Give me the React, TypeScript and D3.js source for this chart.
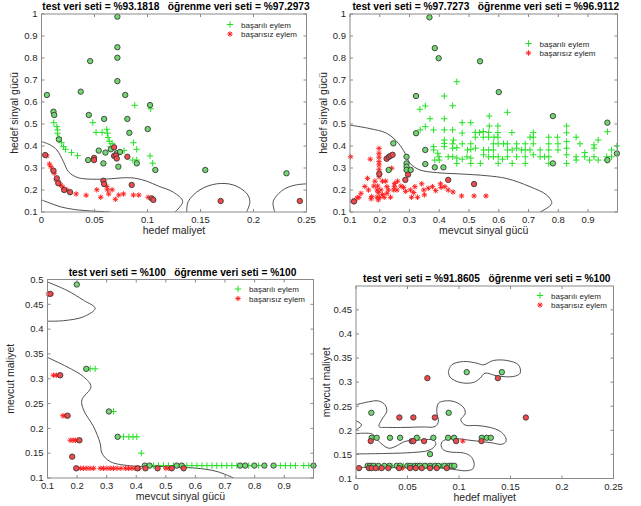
import React from "react";
import * as d3 from "d3";

type Pt = [number, number];

// ---------- panel 1: hedef maliyet / hedef sinyal gücü ----------
const p1TrainOk: Pt[] = [
  [0.0116, 0.506], [0.0145, 0.488], [0.0151, 0.473], [0.0151, 0.458], [0.0164, 0.439], [0.0189, 0.415],
  [0.0208, 0.397], [0.0227, 0.385], [0.0283, 0.37], [0.034, 0.356], [0.0484, 0.506], [0.0515, 0.462],
  [0.0572, 0.462], [0.0616, 0.476], [0.0622, 0.458], [0.0628, 0.439], [0.064, 0.421], [0.0653, 0.397],
  [0.0666, 0.412], [0.088, 0.585], [0.103, 0.569], [0.0867, 0.415], [0.0898, 0.385], [0.1024, 0.355],
  [0.1049, 0.322], [0.0861, 0.336], [0.0898, 0.336], [0.0779, 0.379],
];
const p1TrainFail: Pt[] = [
  [0.005, 0.355], [0.0075, 0.318], [0.0088, 0.306], [0.0107, 0.291], [0.012, 0.276], [0.0138, 0.246],
  [0.0164, 0.234], [0.0182, 0.222], [0.0201, 0.213], [0.0239, 0.201], [0.0327, 0.182], [0.0421, 0.176],
  [0.0522, 0.201], [0.0559, 0.167], [0.0616, 0.216], [0.0622, 0.201], [0.0634, 0.182], [0.0666, 0.201],
  [0.0697, 0.158], [0.0729, 0.177], [0.0773, 0.182], [0.0867, 0.177], [0.0918, 0.177], [0.1006, 0.167],
];
const p1TestOk: Pt[] = [
  [0.0716, 0.988], [0.0716, 0.849], [0.0716, 0.801], [0.0716, 0.695], [0.0459, 0.786], [0.037, 0.647],
  [0.0051, 0.632], [0.079, 0.632], [0.0113, 0.556], [0.012, 0.541], [0.0446, 0.541], [0.0591, 0.523],
  [0.081, 0.523], [0.1024, 0.586], [0.1002, 0.477], [0.0829, 0.46], [0.0164, 0.43], [0.054, 0.379],
  [0.0603, 0.37], [0.0654, 0.385], [0.071, 0.367], [0.0741, 0.373], [0.044, 0.336], [0.0584, 0.321],
  [0.0725, 0.306], [0.0899, 0.321], [0.1074, 0.291], [0.1545, 0.291], [0.2311, 0.276],
];
const p1TestFail: Pt[] = [
  [0.0035, 0.359], [0.0113, 0.288], [0.0145, 0.253], [0.0158, 0.231], [0.0214, 0.2], [0.027, 0.19],
  [0.0496, 0.346], [0.0496, 0.336], [0.0584, 0.242], [0.0591, 0.227], [0.0685, 0.394], [0.0685, 0.355],
  [0.0703, 0.357], [0.071, 0.343], [0.081, 0.351], [0.0851, 0.223], [0.104, 0.162], [0.1055, 0.155],
  [0.169, 0.15], [0.2437, 0.15],
];
const p1Bounds: Pt[][] = [
  [[0, 0.42], [0.0082, 0.405], [0.0145, 0.382], [0.0207, 0.329], [0.0254, 0.283], [0.0333, 0.258],
   [0.0428, 0.25], [0.0616, 0.25], [0.0804, 0.256], [0.0899, 0.252], [0.0993, 0.24], [0.1102, 0.218],
   [0.1244, 0.19], [0.1332, 0.148], [0.1259, 0.1]],
  [[0, 0.155], [0.0082, 0.14], [0.0176, 0.124], [0.0302, 0.112], [0.0428, 0.106], [0.0647, 0.1]],
  [[0.137, 0.1], [0.1385, 0.148], [0.1495, 0.201], [0.1652, 0.228], [0.1809, 0.223], [0.1935, 0.185],
   [0.1966, 0.148], [0.1935, 0.1]],
  [[0.2201, 0.1], [0.2186, 0.148], [0.228, 0.201], [0.239, 0.222], [0.25, 0.228]],
];

// ---------- panel 2: mevcut sinyal gücü / hedef sinyal gücü ----------
const p2TrainOk: Pt[] = [
  [0.459, 0.692], [0.445, 0.583], [0.568, 0.536], [0.629, 0.553], [0.477, 0.506], [0.506, 0.506],
  [0.445, 0.473], [0.568, 0.491], [0.597, 0.491], [0.828, 0.491],
  [0.477, 0.459], [0.521, 0.462], [0.535, 0.461], [0.548, 0.466], [0.566, 0.461], [0.597, 0.461],
  [0.644, 0.461], [0.716, 0.461], [0.828, 0.46], [0.965, 0.465],
  [0.521, 0.44], [0.548, 0.44], [0.566, 0.44], [0.584, 0.44], [0.597, 0.44], [0.705, 0.44],
  [0.716, 0.44], [0.768, 0.44], [0.797, 0.44], [0.86, 0.44], [0.934, 0.427],
  [0.445, 0.41], [0.477, 0.41], [0.506, 0.41], [0.582, 0.41], [0.598, 0.41], [0.616, 0.41],
  [0.629, 0.41], [0.66, 0.41], [0.689, 0.41], [0.716, 0.41], [0.768, 0.41], [0.799, 0.41],
  [0.828, 0.42], [0.873, 0.41], [0.92, 0.405], [0.997, 0.4],
  [0.445, 0.39], [0.495, 0.382], [0.506, 0.385], [0.522, 0.39], [0.549, 0.382], [0.566, 0.382],
  [0.582, 0.382], [0.629, 0.382], [0.645, 0.382], [0.66, 0.39], [0.676, 0.382], [0.689, 0.382],
  [0.705, 0.382], [0.739, 0.382], [0.768, 0.382], [0.799, 0.382], [0.828, 0.39], [0.889, 0.37],
  [0.92, 0.39], [0.979, 0.382],
  [0.445, 0.351], [0.459, 0.345], [0.477, 0.34], [0.493, 0.351], [0.506, 0.345], [0.549, 0.36],
  [0.566, 0.351], [0.582, 0.351], [0.598, 0.351], [0.613, 0.34], [0.629, 0.351], [0.66, 0.351],
  [0.689, 0.351], [0.716, 0.36], [0.739, 0.351], [0.754, 0.351], [0.768, 0.351], [0.828, 0.36],
  [0.86, 0.351], [0.889, 0.351], [0.92, 0.351], [0.963, 0.351], [0.979, 0.351],
  [0.459, 0.321], [0.506, 0.321], [0.538, 0.321], [0.598, 0.321], [0.645, 0.321], [0.689, 0.321],
  [0.768, 0.321], [0.828, 0.321], [0.86, 0.336], [0.905, 0.336], [0.934, 0.336], [0.963, 0.336],
  [0.335, 0.567], [0.353, 0.582], [0.369, 0.524], [0.353, 0.488], [0.336, 0.473], [0.381, 0.473],
  [0.417, 0.627], [0.417, 0.524], [0.417, 0.473], [0.417, 0.427], [0.417, 0.412], [0.417, 0.397],
  [0.395, 0.367], [0.381, 0.397], [0.399, 0.351], [0.448, 0.427], [0.43, 0.351], [0.459, 0.392],
  [0.381, 0.382], [0.4, 0.336], [0.385, 0.336],
];
const p2TrainFail: Pt[] = [
  [0.102, 0.351], [0.1975, 0.389], [0.1975, 0.367], [0.1975, 0.349], [0.1975, 0.329], [0.1975, 0.314],
  [0.1975, 0.294], [0.1975, 0.276], [0.1975, 0.26], [0.168, 0.34], [0.24, 0.299], [0.159, 0.253],
  [0.184, 0.24], [0.209, 0.24], [0.18, 0.218], [0.193, 0.218], [0.15, 0.216], [0.137, 0.185],
  [0.13, 0.167], [0.124, 0.164], [0.115, 0.151], [0.108, 0.149], [0.162, 0.2], [0.173, 0.17],
  [0.171, 0.16], [0.191, 0.2], [0.195, 0.188], [0.204, 0.2], [0.191, 0.167], [0.2, 0.167],
  [0.209, 0.179], [0.195, 0.155], [0.22, 0.24], [0.224, 0.215], [0.229, 0.2], [0.224, 0.185],
  [0.236, 0.167], [0.215, 0.167], [0.249, 0.215], [0.247, 0.2], [0.258, 0.2], [0.271, 0.218],
  [0.28, 0.212], [0.287, 0.194], [0.303, 0.2], [0.318, 0.215], [0.314, 0.188], [0.307, 0.167],
  [0.327, 0.167], [0.341, 0.228], [0.348, 0.2], [0.363, 0.208], [0.35, 0.178], [0.377, 0.215],
  [0.388, 0.197], [0.406, 0.212], [0.404, 0.228], [0.419, 0.215], [0.43, 0.2], [0.446, 0.191],
  [0.475, 0.173], [0.517, 0.173], [0.557, 0.173], [0.25, 0.23], [0.26, 0.24],
];
const p2TestOk: Pt[] = [
  [0.367, 0.985], [0.385, 0.845], [0.398, 0.799], [0.537, 0.785], [0.6, 0.645], [0.782, 0.536],
  [0.965, 0.506], [0.322, 0.627], [0.322, 0.458], [0.2457, 0.412], [0.353, 0.382], [0.353, 0.318],
  [0.385, 0.303], [0.414, 0.303], [0.29, 0.351], [0.29, 0.321], [0.29, 0.306], [0.29, 0.291],
  [0.23, 0.291], [0.304, 0.291], [0.782, 0.321], [0.965, 0.336], [0.997, 0.366],
];
const p2TestFail: Pt[] = [
  [0.1135, 0.148], [0.1987, 0.273], [0.223, 0.342], [0.23, 0.35], [0.236, 0.355], [0.243, 0.36],
  [0.295, 0.27], [0.286, 0.246], [0.43, 0.246], [0.517, 0.227],
];
const p2Bounds: Pt[][] = [
  [[0.1, 0.495], [0.167, 0.479], [0.223, 0.458], [0.263, 0.412], [0.285, 0.367], [0.302, 0.321],
   [0.335, 0.291], [0.391, 0.279], [0.47, 0.273], [0.559, 0.265], [0.627, 0.252], [0.705, 0.215],
   [0.761, 0.177], [0.778, 0.139], [0.739, 0.1]],
];

// ---------- panel 3: mevcut sinyal gücü / mevcut maliyet ----------
const p3TrainOk: Pt[] = [
  [0.244, 0.32], [0.261, 0.32], [0.323, 0.234], [0.357, 0.183], [0.375, 0.183], [0.389, 0.183],
  [0.402, 0.183], [0.417, 0.15],
  [0.458, 0.125], [0.475, 0.125], [0.492, 0.125], [0.509, 0.125], [0.526, 0.125], [0.571, 0.125],
  [0.588, 0.125], [0.605, 0.125], [0.622, 0.125], [0.639, 0.125], [0.656, 0.125], [0.672, 0.125],
  [0.689, 0.125], [0.706, 0.125], [0.723, 0.125], [0.74, 0.125], [0.78, 0.125], [0.813, 0.125],
  [0.887, 0.125], [0.904, 0.125], [0.921, 0.125], [0.938, 0.125], [0.966, 0.125], [0.983, 0.125],
];
const p3TrainFail: Pt[] = [
  [0.103, 0.471], [0.113, 0.471], [0.12, 0.307], [0.13, 0.307], [0.137, 0.307], [0.152, 0.2255],
  [0.16, 0.2255], [0.177, 0.176], [0.186, 0.176], [0.194, 0.176], [0.201, 0.176],
  [0.211, 0.1195], [0.222, 0.1195], [0.233, 0.1195], [0.244, 0.1195], [0.256, 0.1195], [0.278, 0.1195],
  [0.289, 0.1195], [0.301, 0.1195], [0.312, 0.1195], [0.323, 0.1195], [0.335, 0.1195], [0.348, 0.1195],
  [0.363, 0.1195], [0.374, 0.1195], [0.385, 0.1195], [0.396, 0.1195], [0.41, 0.1195], [0.5, 0.1195],
  [0.51, 0.1195],
];
const p3TestOk: Pt[] = [
  [0.199, 0.49], [0.231, 0.32], [0.3075, 0.234], [0.337, 0.183], [0.429, 0.125], [0.445, 0.125],
  [0.537, 0.125], [0.554, 0.125], [0.751, 0.125], [0.768, 0.125], [0.799, 0.125], [0.833, 0.125],
  [0.864, 0.125], [0.999, 0.125],
];
const p3TestFail: Pt[] = [
  [0.109, 0.471], [0.143, 0.307], [0.168, 0.2255], [0.208, 0.176], [0.1835, 0.143], [0.197, 0.1195],
  [0.404, 0.1195], [0.431, 0.1195], [0.472, 0.1195], [0.52, 0.1195], [0.56, 0.1195],
];
const p3Bounds: Pt[][] = [
  [[0.1, 0.495], [0.166, 0.478], [0.222, 0.458], [0.261, 0.442], [0.222, 0.425], [0.154, 0.417], [0.1, 0.416]],
  [[0.1, 0.343], [0.166, 0.324], [0.222, 0.304], [0.247, 0.284], [0.216, 0.257], [0.222, 0.237],
   [0.256, 0.203], [0.278, 0.17], [0.284, 0.15], [0.312, 0.133], [0.391, 0.124], [0.504, 0.123],
   [0.616, 0.119], [0.673, 0.113], [0.729, 0.1]],
];

// ---------- panel 4: hedef maliyet / mevcut maliyet ----------
const p4TrainOk: Pt[] = [
  [0.015, 0.1263], [0.019, 0.1263], [0.035, 0.1263], [0.046, 0.1263], [0.055, 0.1263], [0.065, 0.1263],
  [0.069, 0.1263], [0.074, 0.1263], [0.083, 0.1263], [0.088, 0.1263], [0.092, 0.1263], [0.0601, 0.1845],
];
const p4TrainFail: Pt[] = [[0.1037, 0.1776], [0.022, 0.1216], [0.045, 0.1216]];
const p4TestOk: Pt[] = [
  [0.1075, 0.3207], [0.1416, 0.3207], [0.0149, 0.2363], [0.09, 0.2363],
  [0.0152, 0.1845], [0.0201, 0.1845], [0.033, 0.1845], [0.0428, 0.1845], [0.059, 0.1845], [0.0751, 0.1845],
  [0.0894, 0.1845], [0.0952, 0.1845], [0.1221, 0.1845], [0.127, 0.1845], [0.1309, 0.1845], [0.0719, 0.1506],
  [0.0113, 0.1263], [0.0136, 0.1263], [0.0168, 0.1263], [0.0217, 0.1263], [0.0275, 0.1263], [0.0324, 0.1263],
  [0.0395, 0.1263], [0.0428, 0.1263], [0.0499, 0.1263], [0.0525, 0.1263], [0.0573, 0.1263], [0.0599, 0.1263],
  [0.0622, 0.1263], [0.067, 0.1263], [0.0719, 0.1263], [0.0768, 0.1263], [0.08, 0.1263], [0.0858, 0.1263],
  [0.0904, 0.1263], [0.093, 0.1263], [0.0955, 0.1263],
];
const p4TestFail: Pt[] = [
  [0.0693, 0.3083], [0.1377, 0.3083], [0.0421, 0.2266], [0.0557, 0.2266], [0.0765, 0.2266], [0.1649, 0.2266],
  [0.0143, 0.1776], [0.0541, 0.1776], [0.0557, 0.1776], [0.0661, 0.1776], [0.0972, 0.1776], [0.1218, 0.1776],
  [0.0029, 0.1216], [0.0126, 0.1216], [0.0152, 0.1216], [0.0191, 0.1216], [0.0249, 0.1216], [0.0314, 0.1216],
  [0.0418, 0.1216], [0.0525, 0.1216], [0.058, 0.1216], [0.0638, 0.1216], [0.0719, 0.1216], [0.0784, 0.1216],
  [0.0881, 0.1216],
];
const p4Bounds: Pt[][] = [
  [[0.0897, 0.322], [0.0929, 0.3359], [0.1043, 0.3428], [0.1172, 0.3394], [0.1237, 0.3359], [0.1334, 0.3449],
   [0.1464, 0.3449], [0.1577, 0.3359], [0.1594, 0.3186], [0.1529, 0.3117], [0.1367, 0.3131], [0.1253, 0.3186],
   [0.1205, 0.3082], [0.114, 0.2993], [0.101, 0.2993], [0.0913, 0.3103], [0.0897, 0.322]],
  [[0, 0.253], [0.012, 0.259], [0.0217, 0.261], [0.0282, 0.253], [0.0298, 0.239], [0.0249, 0.222],
   [0.0223, 0.208], [0.0314, 0.206], [0.0476, 0.206], [0.0638, 0.207], [0.0768, 0.208], [0.08, 0.218],
   [0.0784, 0.239], [0.08, 0.256], [0.0865, 0.261], [0.0962, 0.259], [0.1049, 0.246], [0.1059, 0.234],
   [0.1017, 0.222], [0.1059, 0.211], [0.1173, 0.21], [0.1302, 0.206], [0.1399, 0.198], [0.1448, 0.187],
   [0.1457, 0.177], [0.1416, 0.171], [0.132, 0.174], [0.12, 0.177], [0.108, 0.18], [0.097, 0.183],
   [0.0897, 0.182], [0.0839, 0.177], [0.0826, 0.17], [0.0845, 0.16], [0.0913, 0.155], [0.1043, 0.153],
   [0.1114, 0.146], [0.1147, 0.132], [0.1134, 0.12], [0.1059, 0.116], [0.0978, 0.118], [0.08, 0.122],
   [0.05, 0.123], [0.02, 0.123], [0, 0.123]],
  [[0, 0.193], [0.008, 0.194], [0.016, 0.192], [0.0217, 0.178], [0.0314, 0.163], [0.0379, 0.166],
   [0.0476, 0.177], [0.0638, 0.18], [0.0751, 0.18], [0.0775, 0.173], [0.0761, 0.166], [0.07, 0.158],
   [0.055, 0.154], [0.03, 0.152], [0, 0.151]],
  [[0, 0.22], [0.0055, 0.211], [0, 0.201]],
];

// ticks
const costTicks = [0, 0.05, 0.1, 0.15, 0.2, 0.25];
const signalTicks = [0.1, 0.2, 0.3, 0.4, 0.5, 0.6, 0.7, 0.8, 0.9];
const signalYTicks = [0.1, 0.2, 0.3, 0.4, 0.5, 0.6, 0.7, 0.8, 0.9, 1];
const costYTicks3 = [0.1, 0.15, 0.2, 0.25, 0.3, 0.35, 0.4, 0.45, 0.5];
const costYTicks4 = [0.1, 0.15, 0.2, 0.25, 0.3, 0.35, 0.4, 0.45];

const legendLabels = ["başarılı eylem", "başarısız eylem"];

const GREEN = "#22e022";
const RED = "#ff2020";
const AXIS = "#262626";
const FONT = "'Liberation Sans', Arial, Helvetica, sans-serif";

const fmt = (v: number) => String(+v.toFixed(3));

function Plus({ cx, cy, color }: { cx: number; cy: number; color: string }) {
  const s = 3.2;
  return (
    <path d={`M${cx - s},${cy}H${cx + s}M${cx},${cy - s}V${cy + s}`} stroke={color} strokeWidth={1} fill="none" />
  );
}

function Star({ cx, cy, color }: { cx: number; cy: number; color: string }) {
  const s = 2.7;
  const d = 1.9;
  return (
    <path
      d={`M${cx - s},${cy}H${cx + s}M${cx},${cy - s}V${cy + s}M${cx - d},${cy - d}L${cx + d},${cy + d}M${cx - d},${cy + d}L${cx + d},${cy - d}`}
      stroke={color}
      strokeWidth={1}
      fill="none"
    />
  );
}

interface PanelProps {
  id: string;
  box: { left: number; right: number; top: number; bottom: number };
  xDomain: [number, number];
  yDomain: [number, number];
  xTicks: number[];
  yTicks: number[];
  title: string;
  titleY: number;
  xLabel: string;
  yLabel: string;
  yLabelX: number;
  legend: { x: number; y: number };
  trainOk: Pt[];
  trainFail: Pt[];
  testOk: Pt[];
  testFail: Pt[];
  bounds: Pt[][];
}

function Panel(p: PanelProps) {
  const { box } = p;
  const x = d3.scaleLinear().domain(p.xDomain).range([box.left, box.right]);
  const y = d3.scaleLinear().domain(p.yDomain).range([box.bottom, box.top]);
  const line = d3
    .line<Pt>()
    .x((d) => x(d[0]))
    .y((d) => y(d[1]))
    .curve(d3.curveCatmullRom.alpha(0.5));
  const tl = 3;
  const cx = (box.left + box.right) / 2;
  const cy = (box.top + box.bottom) / 2;

  return (
    <g fontFamily={FONT}>
      <defs>
        <clipPath id={`clip-${p.id}`}>
          <rect x={box.left} y={box.top} width={box.right - box.left} height={box.bottom - box.top} />
        </clipPath>
      </defs>

      {/* decision boundaries */}
      <g clipPath={`url(#clip-${p.id})`}>
        {p.bounds.map((b, i) => (
          <path key={i} d={line(b) || ""} fill="none" stroke="#505050" strokeWidth={1} />
        ))}
      </g>

      {/* training points */}
      {p.trainOk.map((d, i) => (
        <Plus key={`to${i}`} cx={x(d[0])} cy={y(d[1])} color={GREEN} />
      ))}
      {p.trainFail.map((d, i) => (
        <Star key={`tf${i}`} cx={x(d[0])} cy={y(d[1])} color={RED} />
      ))}

      {/* test points */}
      {p.testOk.map((d, i) => (
        <circle key={`so${i}`} cx={x(d[0])} cy={y(d[1])} r={2.7} fill="#6fd86f" stroke="#3a3a3a" strokeWidth={0.9} />
      ))}
      {p.testFail.map((d, i) => (
        <circle key={`sf${i}`} cx={x(d[0])} cy={y(d[1])} r={2.7} fill="#f24a4a" stroke="#3a3a3a" strokeWidth={0.9} />
      ))}

      {/* axes box and ticks */}
      <rect
        x={box.left}
        y={box.top}
        width={box.right - box.left}
        height={box.bottom - box.top}
        fill="none"
        stroke="#8a8a8a"
        strokeWidth={1}
      />
      {p.xTicks.map((t) => (
        <g key={`xt${t}`}>
          <line x1={x(t)} x2={x(t)} y1={box.bottom} y2={box.bottom - tl} stroke="#8a8a8a" />
          <line x1={x(t)} x2={x(t)} y1={box.top} y2={box.top + tl} stroke="#8a8a8a" />
          <text x={x(t)} y={box.bottom + 11} textAnchor="middle" fontSize={9.5} fill={AXIS}>
            {fmt(t)}
          </text>
        </g>
      ))}
      {p.yTicks.map((t) => (
        <g key={`yt${t}`}>
          <line x1={box.left} x2={box.left + tl} y1={y(t)} y2={y(t)} stroke="#8a8a8a" />
          <line x1={box.right} x2={box.right - tl} y1={y(t)} y2={y(t)} stroke="#8a8a8a" />
          <text x={box.left - 4} y={y(t) + 3.3} textAnchor="end" fontSize={9.5} fill={AXIS}>
            {fmt(t)}
          </text>
        </g>
      ))}

      {/* labels */}
      <text x={cx} y={box.bottom + 22} textAnchor="middle" fontSize={10.5} fill={AXIS}>
        {p.xLabel}
      </text>
      <text
        transform={`translate(${p.yLabelX},${cy}) rotate(-90)`}
        textAnchor="middle"
        fontSize={10.5}
        fill={AXIS}
      >
        {p.yLabel}
      </text>
      <text x={cx + 2} y={p.titleY} textAnchor="middle" fontSize={10.2} fontWeight="bold" fill="#000" style={{ whiteSpace: "pre" }}>
        {p.title}
      </text>

      {/* legend */}
      <Plus cx={p.legend.x} cy={p.legend.y} color={GREEN} />
      <text x={p.legend.x + 11} y={p.legend.y + 3} fontSize={8} fill={AXIS}>
        {legendLabels[0]}
      </text>
      <Star cx={p.legend.x} cy={p.legend.y + 9.5} color={RED} />
      <text x={p.legend.x + 11} y={p.legend.y + 12.5} fontSize={8} fill={AXIS}>
        {legendLabels[1]}
      </text>
    </g>
  );
}

export default function App() {
  return (
    <svg width={641} height={506} style={{ display: "block", position: "absolute", left: 0, top: 0 }}>
      <rect width={641} height={506} fill="#fff" />
      <Panel
        id="p1"
        box={{ left: 41.5, right: 306.5, top: 14, bottom: 212 }}
        xDomain={[0, 0.25]}
        yDomain={[0.1, 1]}
        xTicks={costTicks}
        yTicks={signalYTicks}
        title={"test veri seti = %93.1818   öğrenme veri seti = %97.2973"}
        titleY={10}
        xLabel="hedef maliyet"
        yLabel="hedef sinyal gücü"
        yLabelX={18}
        legend={{ x: 230, y: 24.5 }}
        trainOk={p1TrainOk}
        trainFail={p1TrainFail}
        testOk={p1TestOk}
        testFail={p1TestFail}
        bounds={p1Bounds}
      />
      <Panel
        id="p2"
        box={{ left: 350, right: 617.5, top: 14, bottom: 212 }}
        xDomain={[0.1, 0.999]}
        yDomain={[0.1, 1]}
        xTicks={signalTicks}
        yTicks={signalYTicks}
        title={"test veri seti = %97.7273   öğrenme veri seti = %96.9112"}
        titleY={10}
        xLabel="mevcut sinyal gücü"
        yLabel="hedef sinyal gücü"
        yLabelX={327}
        legend={{ x: 528.5, y: 43.5 }}
        trainOk={p2TrainOk}
        trainFail={p2TrainFail}
        testOk={p2TestOk}
        testFail={p2TestFail}
        bounds={p2Bounds}
      />
      <Panel
        id="p3"
        box={{ left: 47.5, right: 313.5, top: 279.5, bottom: 478 }}
        xDomain={[0.1, 0.999]}
        yDomain={[0.1, 0.5]}
        xTicks={signalTicks}
        yTicks={costYTicks3}
        title={"test veri seti = %100   öğrenme veri seti = %100"}
        titleY={275.5}
        xLabel="mevcut sinyal gücü"
        yLabel="mevcut maliyet"
        yLabelX={14}
        legend={{ x: 238, y: 289 }}
        trainOk={p3TrainOk}
        trainFail={p3TrainFail}
        testOk={p3TestOk}
        testFail={p3TestFail}
        bounds={p3Bounds}
      />
      <Panel
        id="p4"
        box={{ left: 356, right: 613.5, top: 286, bottom: 478.5 }}
        xDomain={[0, 0.25]}
        yDomain={[0.1, 0.4995]}
        xTicks={costTicks}
        yTicks={costYTicks4}
        title={"test veri seti = %91.8605   öğrenme veri seti = %100"}
        titleY={282}
        xLabel="hedef maliyet"
        yLabel="mevcut maliyet"
        yLabelX={330}
        legend={{ x: 540, y: 295.5 }}
        trainOk={p4TrainOk}
        trainFail={p4TrainFail}
        testOk={p4TestOk}
        testFail={p4TestFail}
        bounds={p4Bounds}
      />
    </svg>
  );
}
